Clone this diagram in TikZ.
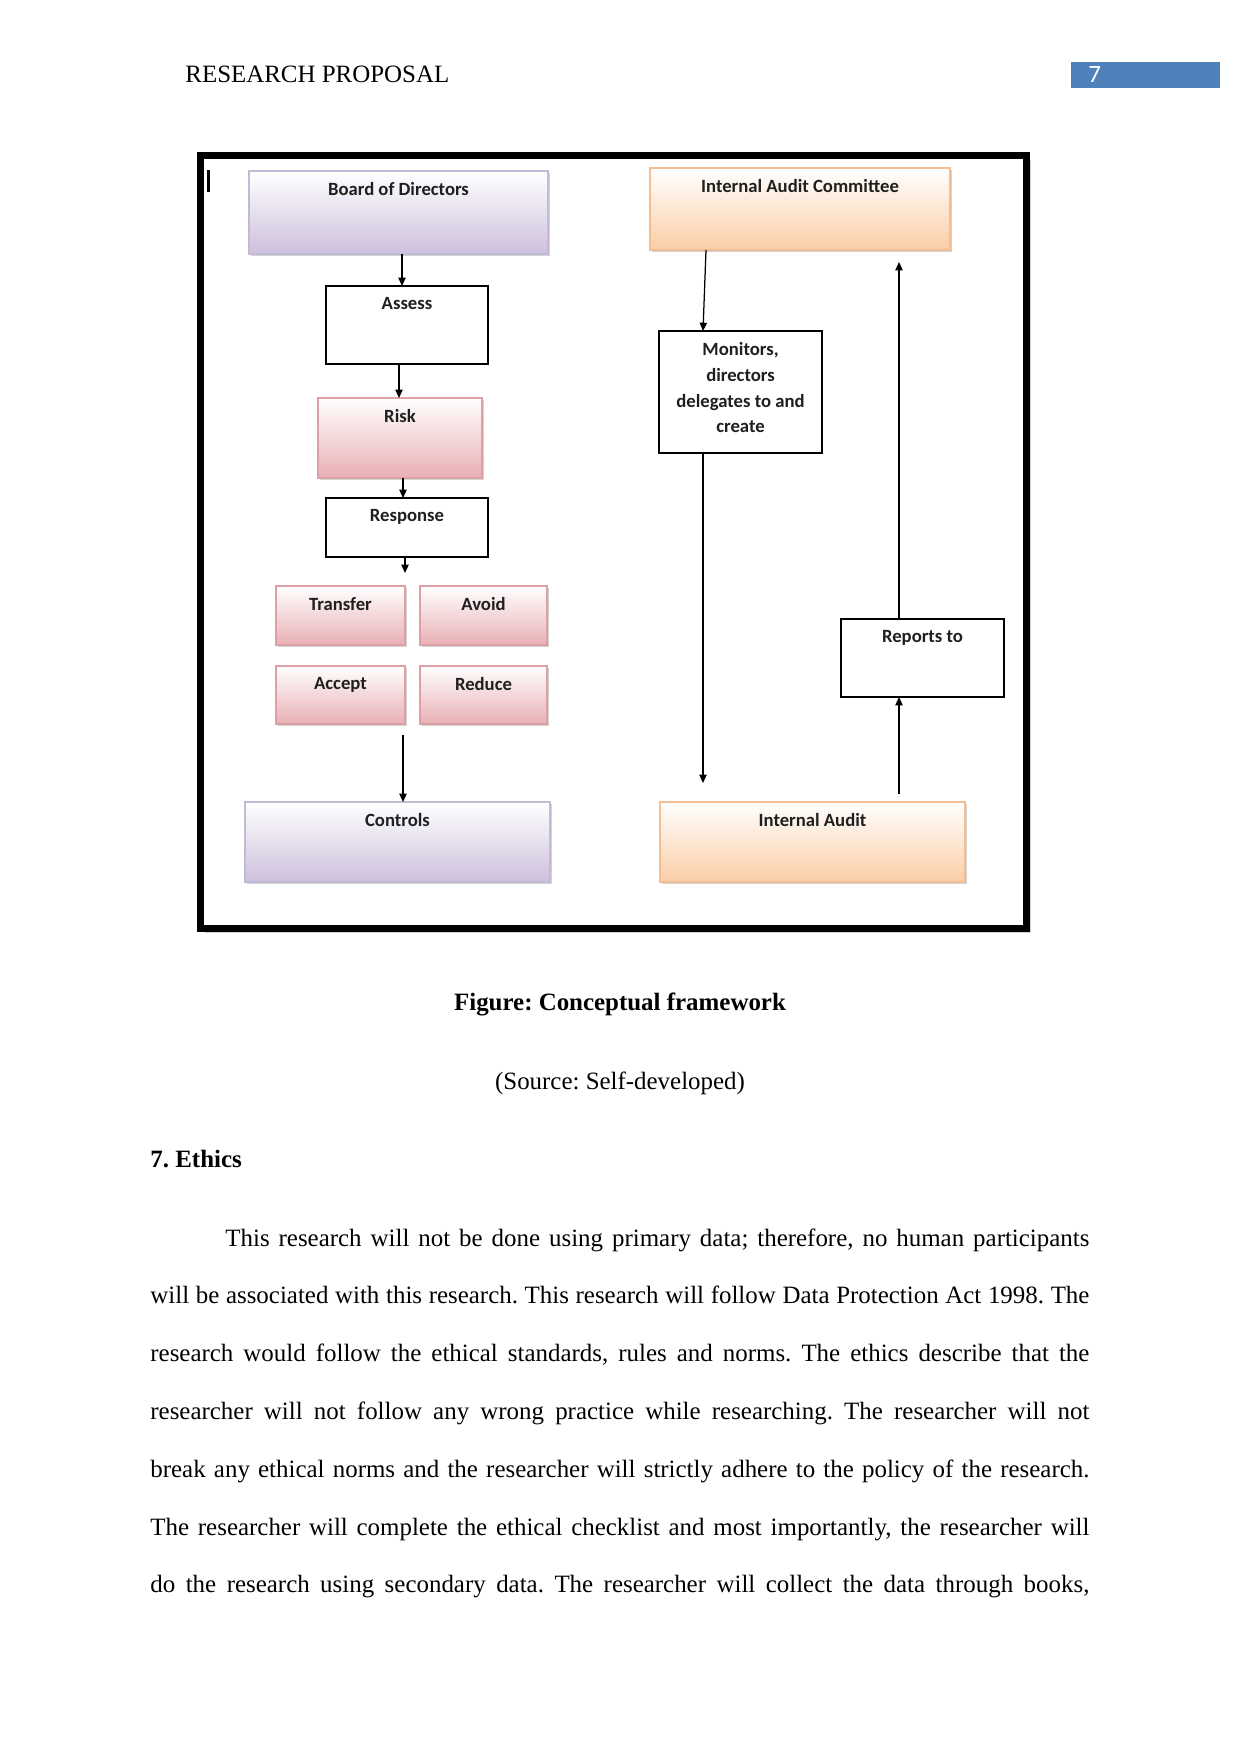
\documentclass[tikz,border=0pt]{standalone}
\usepackage{fontspec}
\setmainfont{Liberation Serif}
\newfontfamily\calfont{Carlito}
\usepackage{tikz}
\usetikzlibrary{arrows.meta,shadows}
\frenchspacing
\newdimen\pxu \pxu=0.0169219cm
\definecolor{clrBoard}{HTML}{CDC0DC}
\definecolor{clrBoardLn}{HTML}{C3BAD6}
\definecolor{clrRisk}{HTML}{E8AFB4}
\definecolor{clrRiskLn}{HTML}{DCA0A6}
\definecolor{clrAudit}{HTML}{FACDA5}
\definecolor{clrAuditLn}{HTML}{F2BE92}
\definecolor{clrHead}{HTML}{4F81BD}
\tikzset{
  sz/.style 2 args={minimum width=#1*\pxu, minimum height=#2*\pxu},
  plainbox/.style={rectangle, draw=black, line width=0.6pt, fill=white,
    inner sep=0pt, outer sep=0pt},
  gradbox/.style 2 args={rectangle, draw=#2, line width=0.6pt, inner sep=0pt,
    outer sep=0pt, top color=white, bottom color=#1,
    drop shadow={shadow xshift=0.9pt, shadow yshift=-0.9pt, fill=black!35}},
  boxlbl/.style={anchor=north, inner sep=5.3pt, align=center,
    font=\calfont\fontsize{9}{12.4}\selectfont\bfseries, text=black!88},
  edge/.style={-{Triangle[length=4pt, width=3.5pt]}, line width=0.6pt},
  bodytxt/.style={inner sep=0pt, font=\fontsize{12}{14}\selectfont},
}

\begin{document}
\begin{tikzpicture}[x=\pxu, y=-\pxu]
\useasboundingbox (0,0) rectangle (1241,1754);
\fill[white] (0,0) rectangle (1241,1754);

% --- Kopfzeile ---
\node[bodytxt, anchor=base west] (runhead) at (185,83) {RESEARCH PROPOSAL};
\node[fill=clrHead, sz={149}{26}, inner sep=0pt, anchor=north west]
  (pagebox) at (1071,62) {};
\node[anchor=base west, inner sep=0pt, text=white,
  font=\calfont\fontsize{12}{14}\selectfont] (pagenum) at (1088,83) {7};

% --- Rahmen ---
\fill[black!18] (205,160) rectangle (1031,933);
\draw[line width=3.4pt, fill=white] (200.5,155.5) rectangle (1026.5,928.5);
\draw[line width=1.5pt] (208.5,170) -- (208.5,192);

% --- linke Spalte ---
\node[gradbox={clrBoard}{clrBoardLn}, sz={299}{83},
  label={[boxlbl]north:Board of Directors}] (board) at (398.5,212.5) {};
\node[plainbox, sz={162}{78}, label={[boxlbl]north:Assess}]
  (assess) at (407,325) {};
\node[gradbox={clrRisk}{clrRiskLn}, sz={164}{80},
  label={[boxlbl]north:Risk}] (risk) at (400,438) {};
\node[plainbox, sz={162}{59}, label={[boxlbl]north:Response}]
  (resp) at (407,527.5) {};
\node[gradbox={clrRisk}{clrRiskLn}, sz={129}{59},
  label={[boxlbl]north:Transfer}] (transfer) at (340.5,615.5) {};
\node[gradbox={clrRisk}{clrRiskLn}, sz={127}{59},
  label={[boxlbl]north:Avoid}] (avoid) at (483.5,615.5) {};
\node[gradbox={clrRisk}{clrRiskLn}, sz={129}{58},
  label={[boxlbl]north:Accept}] (accept) at (340.5,695) {};
\node[gradbox={clrRisk}{clrRiskLn}, sz={127}{58},
  label={[boxlbl]north:Reduce}] (reduce) at (483.5,695) {};
\node[gradbox={clrBoard}{clrBoardLn}, sz={305}{80},
  label={[boxlbl]north:Controls}] (controls) at (397.5,842) {};

\coordinate (respend) at (405,573);
\coordinate (ctrlstart) at (403,735);
\draw[edge] ([xshift=3.5*\pxu]board.south) -- ([xshift=-5*\pxu]assess.north);
\draw[edge] ([xshift=-8*\pxu]assess.south) -- ([xshift=-1*\pxu]risk.north);
\draw[edge] ([xshift=3*\pxu]risk.south) -- ([xshift=-4*\pxu]resp.north);
\draw[edge] ([xshift=-2*\pxu]resp.south) -- (respend);
\draw[edge] (ctrlstart) -- ([xshift=5.5*\pxu]controls.north);

% --- rechte Spalte ---
\node[gradbox={clrAudit}{clrAuditLn}, sz={300}{82},
  label={[boxlbl]north:Internal Audit Committee}] (iac) at (800,209) {};
\node[plainbox, sz={163}{122},
  label={[boxlbl]north:{Monitors,\\directors\\delegates to and\\create}}]
  (monitors) at (740.5,392) {};
\node[plainbox, sz={163}{78}, label={[boxlbl]north:Reports to}]
  (reports) at (922.5,658) {};
\node[gradbox={clrAudit}{clrAuditLn}, sz={305}{80},
  label={[boxlbl]north:Internal Audit}] (audit) at (812.5,842) {};

\coordinate (monend) at (703,783);
\coordinate (auditstart) at (899,794);
\coordinate (iacend) at (899,262);
\draw[edge] ([xshift=-94*\pxu]iac.south) -- ([xshift=-37.5*\pxu]monitors.north);
\draw[edge] ([xshift=-37.5*\pxu]monitors.south) -- (monend);
\draw[edge] (auditstart) -- ([xshift=-23.5*\pxu]reports.south);
\draw[edge] ([xshift=-23.5*\pxu]reports.north) -- (iacend);

% --- Bildunterschrift und Text ---
\node[bodytxt, anchor=base, font=\fontsize{12}{14}\selectfont\bfseries]
  (caption) at (620,1010) {Figure: Conceptual framework};
\node[bodytxt, anchor=base] (source) at (620,1089) {(Source: Self-developed)};
\node[bodytxt, anchor=base west, font=\fontsize{12}{14}\selectfont\bfseries]
  (ethics) at (150,1167) {7. Ethics};

\node[bodytxt, anchor=base west] (line1) at (225,1246)
  {\makebox[864\pxu][s]{This research will not be done using primary data; therefore, no human participants}};
\foreach \n/\txt in {
  2/{will be associated with this research. This research will follow Data Protection Act 1998. The},
  3/{research would follow the ethical standards, rules and norms. The ethics describe that the},
  4/{researcher will not follow any wrong practice while researching. The researcher will not},
  5/{break any ethical norms and the researcher will strictly adhere to the policy of the research.},
  6/{The researcher will complete the ethical checklist and most importantly, the researcher will},
  7/{do the research using secondary data. The researcher will collect the data through books,}}{
  \node[bodytxt, anchor=base west] (line\n) at (150,{1246+57.8*(\n-1)})
    {\makebox[939\pxu][s]{\txt}};
}

\end{tikzpicture}
\end{document}
